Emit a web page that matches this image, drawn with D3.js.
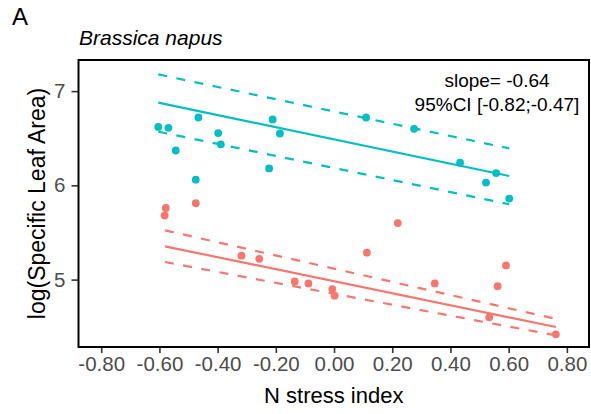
<!DOCTYPE html>
<html>
<head>
<meta charset="utf-8">
<script src="https://cdn.jsdelivr.net/npm/d3@7"></script>
<style>
  body { margin: 0; background: #fff; }
  svg { display: block; font-family: "Liberation Sans", Arial, Helvetica, sans-serif; }
</style>
</head>
<body>
<svg id="chart" width="591" height="414"></svg>
<script>
// ---- Data ----
const xTicks = [-0.8, -0.6, -0.4, -0.2, 0, 0.2, 0.4, 0.6, 0.8];
const yTicks = [5, 6, 7];

const tealX = [-0.604, -0.569, -0.466, -0.544, -0.398, -0.389, -0.475, -0.211, -0.186, -0.223, 0.110, 0.275, 0.433, 0.557, 0.522, 0.602];
const tealY = [6.62, 6.61, 6.72, 6.37, 6.555, 6.435, 6.06, 6.70, 6.55, 6.18, 6.72, 6.60, 6.24, 6.13, 6.03, 5.86];

const redX = [-0.578, -0.582, -0.475, -0.318, -0.257, -0.135, -0.088, -0.006, 0.002, 0.219, 0.113, 0.346, 0.562, 0.591, 0.533, 0.762];
const redY = [5.76, 5.68, 5.81, 5.254, 5.22, 4.98, 4.96, 4.90, 4.83, 5.60, 5.286, 4.96, 4.93, 5.15, 4.60, 4.42];

// fitted line and CI ends [start, end]
const tealLineX = [-0.604, 0.602];
const tealFit = [6.877, 6.099];
const tealUpper = [7.177, 6.392];
const tealLower = [6.57, 5.80];

const redLineX = [-0.581, 0.762];
const redFit = [5.353, 4.497];
const redUpper = [5.523, 4.583];
const redLower = [5.187, 4.408];

const annotation = ["slope= -0.64", "95%CI [-0.82;-0.47]"];

// ---- Layout ----
const W = 591, H = 414;
const m = { left: 78.5, right: 2, top: 60, bottom: 67 };
const teal = "#00BFC4", red = "#F8766D";

const svg = d3.select("#chart");
const x = d3.scaleLinear().domain([-0.878, 0.876]).range([m.left, W - m.right]);
const y = d3.scaleLinear().domain([4.285, 7.33]).range([H - m.bottom, m.top]);

// Axes
const xAxis = svg.append("g")
  .attr("transform", `translate(0,${H - m.bottom})`)
  .call(d3.axisBottom(x).tickValues(xTicks).tickFormat(d3.format(".2f")).tickSize(6).tickPadding(3));
const yAxis = svg.append("g")
  .attr("transform", `translate(${m.left},0)`)
  .call(d3.axisLeft(y).tickValues(yTicks).tickFormat(d3.format("d")).tickSize(7).tickPadding(6));
[xAxis, yAxis].forEach(g => {
  g.select(".domain").remove();
  g.selectAll(".tick line").attr("stroke", "#333").attr("stroke-width", 1.6);
  g.selectAll(".tick text").attr("fill", "#4d4d4d").style("font-size", "20.5px")
    .style("font-family", "'Liberation Sans', Arial, Helvetica, sans-serif");
});
xAxis.selectAll(".tick text").text(d => d3.format(".2f")(d).replace("−", "-"));

// Lines
const line = d3.line().x(d => x(d[0])).y(d => y(d[1]));
function drawSet(xs, fit, up, lo, col) {
  svg.append("path").datum(xs.map((v, i) => [v, fit[i]])).attr("d", line)
    .attr("stroke", col).attr("stroke-width", 2.2).attr("fill", "none");
  [up, lo].forEach(arr => {
    svg.append("path").datum(xs.map((v, i) => [v, arr[i]])).attr("d", line)
      .attr("stroke", col).attr("stroke-width", 2.2).attr("fill", "none")
      .attr("stroke-dasharray", "9,9.5");
  });
}
drawSet(tealLineX, tealFit, tealUpper, tealLower, teal);
drawSet(redLineX, redFit, redUpper, redLower, red);

// Points
function drawPts(xs, ys, col) {
  svg.append("g").selectAll("circle").data(xs.map((v, i) => [v, ys[i]])).join("circle")
    .attr("cx", d => x(d[0])).attr("cy", d => y(d[1])).attr("r", 3.9).attr("fill", col);
}
drawPts(tealX, tealY, teal);
drawPts(redX, redY, red);

// Panel border
svg.append("rect")
  .attr("x", m.left).attr("y", m.top)
  .attr("width", W - m.left - m.right).attr("height", H - m.top - m.bottom)
  .attr("fill", "none").attr("stroke", "#000").attr("stroke-width", 2);

// Annotation
const ann = svg.append("text").attr("text-anchor", "middle").style("font-size", "19px").attr("fill", "#000");
ann.selectAll("tspan").data(annotation).join("tspan")
  .attr("x", 497).attr("y", (d, i) => 86.5 + i * 24).text(d => d);

// Titles
svg.append("text").attr("x", (m.left + W - m.right) / 2).attr("y", 403)
  .attr("text-anchor", "middle").style("font-size", "22px").text("N stress index");
svg.append("text").attr("transform", `translate(44.5,${(m.top + H - m.bottom) / 2}) rotate(-90)`)
  .attr("text-anchor", "middle").style("font-size", "23px").text("log(Specific Leaf Area)");
svg.append("text").attr("x", 79).attr("y", 45).style("font-size", "21px").style("font-style", "italic")
  .text("Brassica napus");
svg.append("text").attr("x", 12).attr("y", 25).style("font-size", "24px").text("A");
</script>
</body>
</html>
